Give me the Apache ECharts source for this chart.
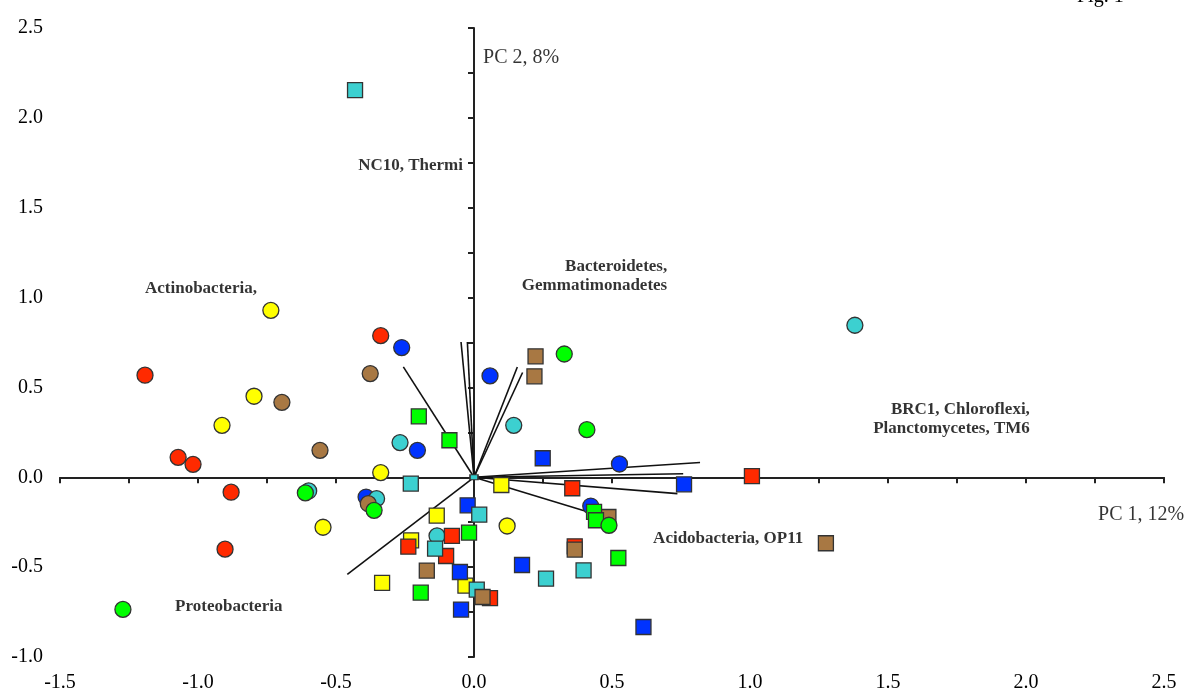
<!DOCTYPE html>
<html>
<head>
<meta charset="utf-8">
<script src="https://cdn.jsdelivr.net/npm/echarts@6/dist/echarts.min.js"></script>
<style>
  html, body { margin: 0; padding: 0; background: #fff; }
  #main { width: 1200px; height: 696px; }
</style>
</head>
<body>
<div id="main"></div>
<script>
// sample scores (PC1, PC2)
var redCircles = [[-1.192, 0.568], [-1.072, 0.111], [-1.018, 0.072], [-0.880, -0.083], [-0.902, -0.400], [-0.338, 0.788]];
var yellowCircles = [[-0.736, 0.929], [-0.797, 0.451], [-0.913, 0.289], [-0.338, 0.026], [-0.547, -0.278], [0.120, -0.271]];
var blueCircles = [[-0.262, 0.722], [0.058, 0.564], [-0.205, 0.150], [0.527, 0.074], [-0.391, -0.110], [0.423, -0.160]];
var cyanCircles = [[1.380, 0.846], [0.144, 0.289], [-0.268, 0.193], [-0.599, -0.076], [-0.353, -0.119], [-0.134, -0.326]];
var brownCircles = [[-0.696, 0.417], [-0.558, 0.150], [-0.376, 0.577], [-0.383, -0.147]];
var greenCircles = [[0.327, 0.686], [0.409, 0.265], [-0.611, -0.087], [-0.362, -0.184], [0.489, -0.267], [-1.272, -0.735]];

var yellowSquares = [[0.099, -0.043], [-0.135, -0.213], [-0.228, -0.351], [-0.333, -0.588], [-0.031, -0.603]];
var redSquares = [[1.007, 0.006], [0.356, -0.061], [-0.080, -0.326], [-0.238, -0.386], [-0.101, -0.438], [0.365, -0.384], [0.058, -0.672]];
var blueSquares = [[0.249, 0.106], [0.761, -0.039], [-0.023, -0.156], [0.174, -0.488], [-0.051, -0.527], [-0.047, -0.736], [0.614, -0.833]];
var cyanSquares = [[-0.431, 2.154], [-0.229, -0.035], [0.019, -0.208], [-0.141, -0.397], [0.397, -0.518], [0.261, -0.564], [0.010, -0.625]];
var brownSquares = [[0.223, 0.673], [0.219, 0.562], [0.487, -0.221], [0.365, -0.402], [-0.171, -0.519], [0.031, -0.666], [1.275, -0.367]];
var greenSquares = [[-0.200, 0.339], [-0.089, 0.206], [0.435, -0.193], [0.442, -0.239], [-0.018, -0.308], [0.523, -0.449], [-0.193, -0.642]];
var originMark = [[0, 0]];

// loading vectors (end points, all start at origin)
var vectorEnds = [[-0.256, 0.614], [-0.047, 0.753], [-0.024, 0.753], [0.157, 0.614], [0.176, 0.583],
  [0.819, 0.082], [0.758, 0.020], [0.737, -0.091], [0.414, -0.193], [-0.459, -0.540]];

// phylum labels: [x, y, text, side]
var phylumLabels = [
  [-0.04, 1.736, 'NC10, Thermi', 'left'],
  [-1.192, 1.052, 'Actinobacteria,', 'right'],
  [0.70, 1.121, 'Bacteroidetes,\nGemmatimonadetes', 'left'],
  [2.014, 0.323, 'BRC1, Chloroflexi,\nPlanctomycetes, TM6', 'left'],
  [0.649, -0.339, 'Acidobacteria, OP11', 'right'],
  [-1.083, -0.718, 'Proteobacteria', 'right']
];
var axisTitles = [
  [0.033, 2.332, 'PC 2, 8%'],
  [2.261, -0.211, 'PC 1, 12%']
];

var serif = 'Liberation Serif, Times New Roman, serif';

function pts(data, symbol, color) {
  return {
    type: 'scatter',
    data: data,
    symbol: symbol,
    symbolSize: symbol === 'circle' ? 16 : 15,
    itemStyle: { color: color, borderColor: '#333', borderWidth: 1.3, opacity: 1 },
    emphasis: { disabled: true },
    z: 3
  };
}

var chartDom = document.getElementById('main');
var myChart = echarts.init(chartDom);
var option;

option = {
  animation: false,
  backgroundColor: '#fff',
  grid: { left: 60, right: 36, top: 28, bottom: 39 },
  xAxis: [
    {
      type: 'value', min: -1.5, max: 2.5, interval: 0.5, position: 'bottom',
      axisLine: { show: false, onZero: false }, axisTick: { show: false }, splitLine: { show: false },
      axisLabel: { margin: 16, fontFamily: serif, fontSize: 20, color: '#000', formatter: function (v) { return v.toFixed(1); } }
    },
    {
      type: 'value', min: -1.5, max: 2.5, interval: 0.25, position: 'bottom',
      axisLine: { show: true, onZero: true, onZeroAxisIndex: 0, lineStyle: { color: '#222', width: 2 } },
      axisTick: { show: true, length: 6, lineStyle: { color: '#222', width: 2 } },
      axisLabel: { show: false }, splitLine: { show: false }
    }
  ],
  yAxis: [
    {
      type: 'value', min: -1.0, max: 2.5, interval: 0.5, position: 'left',
      axisLine: { show: false, onZero: false }, axisTick: { show: false }, splitLine: { show: false },
      axisLabel: { margin: 17, fontFamily: serif, fontSize: 20, color: '#000', formatter: function (v) { return v.toFixed(1); } }
    },
    {
      type: 'value', min: -1.0, max: 2.5, interval: 0.25, position: 'left',
      axisLine: { show: true, onZero: true, onZeroAxisIndex: 0, lineStyle: { color: '#222', width: 2 } },
      axisTick: { show: true, length: 6, lineStyle: { color: '#222', width: 2 } },
      axisLabel: { show: false }, splitLine: { show: false }
    }
  ],
  graphic: [
    { type: 'text', left: 1077, top: -13, style: { text: 'Fig. 1', font: '20px ' + serif, fill: '#000' } }
  ],
  series: [
    {
      type: 'lines',
      coordinateSystem: 'cartesian2d',
      data: vectorEnds.map(function (e) { return { coords: [[0, 0], e] }; }),
      lineStyle: { color: '#111', width: 1.6, opacity: 1 },
      z: 1
    },
    pts(originMark, 'rect', '#33CCCC'),
    pts(redCircles, 'circle', '#FF2A00'),
    pts(yellowCircles, 'circle', '#FFFF00'),
    pts(blueCircles, 'circle', '#0033FF'),
    pts(cyanCircles, 'circle', '#3CD0D0'),
    pts(brownCircles, 'circle', '#A87843'),
    pts(yellowSquares, 'rect', '#FFFF00'),
    pts(redSquares, 'rect', '#FF2A00'),
    pts(blueSquares, 'rect', '#0033FF'),
    pts(cyanSquares, 'rect', '#3CD0D0'),
    pts(brownSquares, 'rect', '#A87843'),
    pts(greenSquares, 'rect', '#00FF00'),
    pts(greenCircles, 'circle', '#00FF00'),
    {
      type: 'scatter',
      symbolSize: 0,
      silent: true,
      data: phylumLabels.map(function (l) {
        return { value: [l[0], l[1]], name: l[2], label: { position: l[3] } };
      }),
      label: {
        show: true, distance: 0, formatter: '{b}', fontFamily: serif, fontSize: 17,
        fontWeight: 'bold', color: '#000', lineHeight: 19
      },
      z: 4
    },
    {
      type: 'scatter',
      symbolSize: 0,
      silent: true,
      data: axisTitles.map(function (l) { return { value: [l[0], l[1]], name: l[2] }; }),
      label: { show: true, position: 'right', distance: 0, formatter: '{b}', fontFamily: serif, fontSize: 20, color: '#000' },
      z: 4
    }
  ]
};

option.series[1].symbolSize = [8, 5];

option && myChart.setOption(option);
</script>
</body>
</html>
